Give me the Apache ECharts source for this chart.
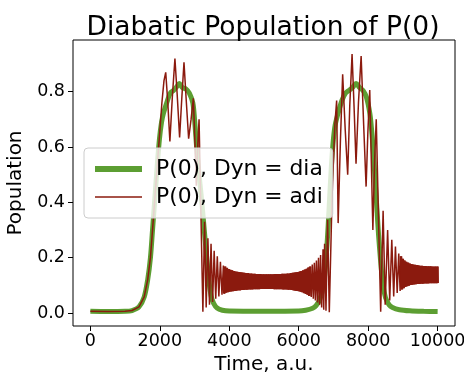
<!DOCTYPE html>
<html>
<head>
<meta charset="utf-8">
<script src="https://cdn.jsdelivr.net/npm/echarts@6/dist/echarts.min.js"></script>
<style>
  html, body { margin: 0; padding: 0; background: #fff; }
  #chart { width: 464px; height: 376px; }
</style>
</head>
<body>
<div id="chart"></div>
<script>
const xTicks = [0, 2000, 4000, 6000, 8000, 10000];
const yTicks = [0, 0.2, 0.4, 0.6, 0.8];

// P(0), Dyn = dia  (smooth curve)
const diaPoints = [
  [0, 0.006], [500, 0.005], [1000, 0.006], [1200, 0.009], [1400, 0.022], [1550, 0.058],
  [1650, 0.12], [1730, 0.2], [1790, 0.3], [1860, 0.42], [1930, 0.54], [1990, 0.63],
  [2050, 0.69], [2100, 0.72], [2200, 0.76], [2300, 0.795], [2400, 0.805], [2500, 0.82],
  [2560, 0.83], [2650, 0.815], [2750, 0.81], [2850, 0.795], [2950, 0.76], [3000, 0.7],
  [3060, 0.6], [3130, 0.5], [3210, 0.4], [3280, 0.3], [3350, 0.2], [3420, 0.11],
  [3480, 0.06], [3550, 0.035], [3650, 0.018], [3800, 0.01], [4000, 0.007], [5000, 0.006],
  [6000, 0.007], [6200, 0.01], [6400, 0.017], [6500, 0.027], [6600, 0.047], [6700, 0.09],
  [6750, 0.14], [6800, 0.22], [6850, 0.32], [6900, 0.44], [6950, 0.55], [7000, 0.63],
  [7050, 0.68], [7150, 0.73], [7250, 0.77], [7350, 0.795], [7450, 0.805], [7550, 0.815],
  [7650, 0.83], [7750, 0.815], [7850, 0.805], [7950, 0.78], [8050, 0.72], [8100, 0.66],
  [8150, 0.58], [8200, 0.48], [8250, 0.38], [8300, 0.28], [8350, 0.2], [8400, 0.13],
  [8450, 0.085], [8500, 0.055], [8600, 0.03], [8700, 0.02], [8900, 0.012], [9200, 0.008],
  [9600, 0.006], [10000, 0.005]
];

// P(0), Dyn = adi  (oscillating curve), in pieces
const adiFirstHump = [
  [0, 0.006], [500, 0.005], [1000, 0.006], [1200, 0.009], [1400, 0.022], [1550, 0.058],
  [1650, 0.12], [1730, 0.2], [1790, 0.3], [1860, 0.42], [1930, 0.54], [1990, 0.64],
  [2060, 0.76], [2120, 0.84], [2170, 0.87], [2230, 0.76], [2290, 0.62], [2360, 0.78],
  [2435, 0.92], [2500, 0.79], [2570, 0.635], [2630, 0.77], [2696, 0.906], [2760, 0.77],
  [2830, 0.63], [2900, 0.7], [2966, 0.776], [3010, 0.62], [3050, 0.46], [3090, 0.6],
  [3130, 0.7], [3185, 0.35], [3240, 0.005], [3290, 0.33], [3335, 0.02], [3385, 0.27],
  [3430, 0.03], [3475, 0.25], [3520, 0.04], [3565, 0.225], [3610, 0.052], [3655, 0.205],
  [3700, 0.06], [3745, 0.185], [3790, 0.066], [3830, 0.172]
];

const adiMiddleBand = [
  [3855, 0.070], [3880, 0.168], [3905, 0.073], [3930, 0.163], [3955, 0.075], [3980, 0.159],
  [4005, 0.077], [4030, 0.156], [4055, 0.078], [4080, 0.154], [4105, 0.079], [4130, 0.152],
  [4155, 0.080], [4180, 0.150], [4205, 0.081], [4230, 0.149], [4255, 0.082], [4280, 0.148],
  [4305, 0.082], [4330, 0.147], [4355, 0.083], [4380, 0.146], [4405, 0.083], [4430, 0.145],
  [4455, 0.084], [4480, 0.144], [4505, 0.084], [4530, 0.144], [4555, 0.085], [4580, 0.143],
  [4605, 0.085], [4630, 0.143], [4655, 0.085], [4680, 0.142], [4705, 0.086], [4730, 0.142],
  [4755, 0.086], [4780, 0.141], [4805, 0.086], [4830, 0.141], [4855, 0.086], [4880, 0.141],
  [4905, 0.087], [4930, 0.140], [4955, 0.087], [4980, 0.140], [5005, 0.087], [5030, 0.140],
  [5055, 0.087], [5080, 0.140], [5105, 0.087], [5130, 0.140], [5155, 0.087], [5180, 0.140],
  [5205, 0.087], [5230, 0.140], [5255, 0.087], [5280, 0.140], [5305, 0.086], [5330, 0.141],
  [5355, 0.086], [5380, 0.141], [5405, 0.086], [5430, 0.141], [5455, 0.086], [5480, 0.141],
  [5505, 0.086], [5530, 0.142], [5555, 0.085], [5580, 0.142], [5605, 0.085], [5630, 0.142],
  [5655, 0.085], [5680, 0.143], [5705, 0.084], [5730, 0.143], [5755, 0.084], [5780, 0.144],
  [5805, 0.083], [5830, 0.145], [5855, 0.082], [5880, 0.146], [5905, 0.081], [5930, 0.147],
  [5955, 0.080], [5980, 0.148], [6005, 0.079], [6030, 0.150], [6055, 0.077], [6080, 0.152],
  [6105, 0.075], [6130, 0.154], [6155, 0.072], [6180, 0.157], [6205, 0.069], [6230, 0.160],
  [6255, 0.066], [6280, 0.164], [6305, 0.062], [6330, 0.168]
];

const adiSecondHump = [
  [6360, 0.058], [6390, 0.175], [6420, 0.052], [6450, 0.182], [6480, 0.045], [6510, 0.19],
  [6540, 0.038], [6570, 0.2], [6600, 0.03], [6630, 0.21], [6660, 0.02], [6700, 0.23],
  [6720, 0.012], [6745, 0.25], [6785, 0.008], [6831, 0.337], [6880, 0.003], [6960, 0.42],
  [7040, 0.68], [7092, 0.768], [7135, 0.325], [7200, 0.62], [7265, 0.863], [7340, 0.66],
  [7410, 0.5], [7470, 0.75], [7536, 0.936], [7595, 0.74], [7650, 0.54], [7720, 0.76],
  [7797, 0.929], [7870, 0.68], [7940, 0.457], [7990, 0.65], [8045, 0.806], [8090, 0.55],
  [8135, 0.3], [8185, 0.55], [8232, 0.7], [8300, 0.33], [8360, 0.005], [8430, 0.37],
  [8490, 0.03], [8560, 0.3], [8620, 0.045], [8680, 0.265], [8735, 0.06], [8785, 0.24],
  [8835, 0.072], [8880, 0.215], [8920, 0.08]
];

const adiRightBand = [
  [8945, 0.205], [8970, 0.085], [8995, 0.196], [9020, 0.090], [9045, 0.190], [9070, 0.094],
  [9095, 0.185], [9120, 0.097], [9145, 0.182], [9170, 0.099], [9195, 0.179], [9220, 0.101],
  [9245, 0.177], [9270, 0.102], [9295, 0.175], [9320, 0.103], [9345, 0.174], [9370, 0.104],
  [9395, 0.173], [9420, 0.105], [9445, 0.172], [9470, 0.105], [9495, 0.171], [9520, 0.106],
  [9545, 0.171], [9570, 0.106], [9595, 0.170], [9620, 0.107], [9645, 0.170], [9670, 0.107],
  [9695, 0.169], [9720, 0.107], [9745, 0.169], [9770, 0.108], [9795, 0.169], [9820, 0.108],
  [9845, 0.168], [9870, 0.108], [9895, 0.168], [9920, 0.108], [9945, 0.168], [9970, 0.108],
  [9995, 0.168], [10000, 0.108]
];

const adiPoints = adiFirstHump.concat(adiMiddleBand, adiSecondHump, adiRightBand);

const FONT = "DejaVu Sans";
const GREEN = "#5c9e32";
const RED = "#8b1a0e";
const DIA = "P(0), Dyn = dia";
const ADI = "P(0), Dyn = adi";

const chart = echarts.init(document.getElementById("chart"), null, { renderer: "canvas" });

// the fast oscillation is too dense to resolve, so the band stretches get a thicker stroke
const bandSeries = (data) => ({
  name: ADI,
  type: "line",
  data,
  symbol: "none",
  lineStyle: { color: RED, width: 2.6 },
  itemStyle: { color: RED }
});

chart.setOption({
  animation: false,
  title: {
    text: "Diabatic Population of P(0)",
    left: 258,
    textAlign: "center",
    top: 10,
    textStyle: { fontFamily: FONT, fontSize: 26.5, fontWeight: "normal", color: "#000" }
  },
  grid: {
    left: 73, right: 9, top: 40, bottom: 50,
    outerBoundsMode: "none",
    containLabel: false,
    show: true, borderColor: "#000", borderWidth: 1, backgroundColor: "transparent"
  },
  legend: {
    orient: "vertical",
    left: 84, top: 148,
    z: 10,
    padding: [8, 10, 8, 8],
    itemGap: 2,
    itemWidth: 47,
    itemHeight: 2,
    itemTextGap: 16,
    itemStyle: { opacity: 0, borderWidth: 0 },
    backgroundColor: "rgba(255,255,255,0.8)",
    borderColor: "#cccccc",
    borderWidth: 1,
    borderRadius: 4,
    textStyle: {
      fontFamily: FONT, fontSize: 21.8, color: "#000", lineHeight: 26,
      padding: [0, 0, 0, 9]
    },
    data: [
      { name: DIA, lineStyle: { width: 6, color: GREEN } },
      { name: ADI, lineStyle: { width: 1.5, color: RED } }
    ]
  },
  xAxis: {
    type: "value",
    min: -500, max: 10500,
    name: "Time, a.u.",
    nameLocation: "middle",
    nameGap: 26,
    nameTextStyle: { fontFamily: FONT, fontSize: 20, color: "#000" },
    axisLine: { show: false, onZero: false },
    axisTick: { show: true, inside: false, length: 5, customValues: xTicks, lineStyle: { color: "#000" } },
    axisLabel: {
      customValues: xTicks, fontFamily: FONT, fontSize: 17.5, color: "#000", margin: 6,
      formatter: (v) => String(v)
    },
    splitLine: { show: false }
  },
  yAxis: {
    type: "value",
    min: -0.047, max: 0.987,
    name: "Population",
    nameLocation: "middle",
    nameRotate: 90,
    nameGap: 37,
    nameTextStyle: { fontFamily: FONT, fontSize: 20, color: "#000" },
    axisLine: { show: false, onZero: false },
    axisTick: { show: true, inside: false, length: 5, customValues: yTicks, lineStyle: { color: "#000" } },
    axisLabel: {
      customValues: yTicks, fontFamily: FONT, fontSize: 17.5, color: "#000", margin: 8,
      formatter: (v) => v.toFixed(1)
    },
    splitLine: { show: false }
  },
  series: [
    {
      name: DIA,
      type: "line",
      data: diaPoints,
      symbol: "none",
      smooth: 0.3,
      lineStyle: { color: GREEN, width: 5 },
      itemStyle: { color: GREEN }
    },
    {
      name: ADI,
      type: "line",
      data: adiPoints,
      symbol: "none",
      lineStyle: { color: RED, width: 1.5 },
      itemStyle: { color: RED }
    },
    bandSeries(adiMiddleBand),
    bandSeries(adiRightBand)
  ]
});
</script>
</body>
</html>
